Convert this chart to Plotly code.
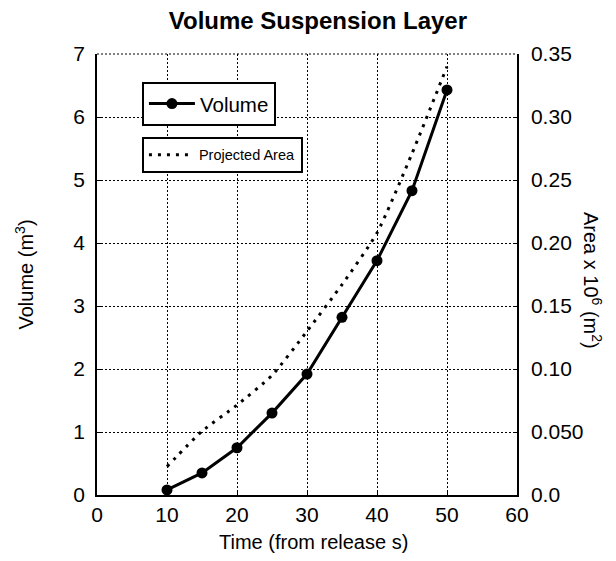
import plotly.graph_objects as go

time_s = [10, 15, 20, 25, 30, 35, 40, 45, 50]
volume_m3 = [0.08, 0.35, 0.75, 1.30, 1.92, 2.82, 3.72, 4.83, 6.43]
area_1e6_m2 = [0.0225, 0.0506, 0.0714, 0.095, 0.130, 0.167, 0.208, 0.271, 0.340]

x_ticks = [0, 10, 20, 30, 40, 50, 60]
y_ticks = [0, 1, 2, 3, 4, 5, 6, 7]
y2_tickvals = [0.0, 0.05, 0.10, 0.15, 0.20, 0.25, 0.30, 0.35]
y2_ticktext = ["0.0", "0.050", "0.10", "0.15", "0.20", "0.25", "0.30", "0.35"]

FONT = "Liberation Sans, Arial, sans-serif"

fig = go.Figure()
fig.add_trace(go.Scatter(
    x=time_s, y=volume_m3, name="Volume", mode="lines+markers",
    line=dict(color="black", width=3),
    marker=dict(symbol="circle", size=11, color="black"),
    legend="legend", showlegend=True,
))
fig.add_trace(go.Scatter(
    x=time_s, y=area_1e6_m2, name="Projected Area", mode="lines",
    line=dict(color="black", width=3, dash="3px,6px", shape="spline", smoothing=0.6),
    yaxis="y2", legend="legend2", showlegend=True,
))

axis_common = dict(
    showline=True, linecolor="black", linewidth=1.5,
    ticks="inside", ticklen=4, tickcolor="black", tickwidth=1,
    tickfont=dict(family=FONT, size=21, color="black"),
    zeroline=False,
)

# the page body adds an 8px offset; the figure is sized to fit the window
fig.update_layout(
    width=600, height=545,
    margin=dict(l=89, r=91, t=46, b=58),
    paper_bgcolor="white", plot_bgcolor="white",
    font=dict(family=FONT, color="black"),
    showlegend=True,
    title=dict(text="<b>Volume Suspension Layer</b>", x=0.526, xref="paper",
               xanchor="center", y=1 - 13 / 545, yanchor="middle",
               font=dict(family=FONT, size=24, color="black")),
    xaxis=dict(range=[0, 60], tickvals=x_ticks, showgrid=True,
               gridcolor="black", gridwidth=1, griddash="2px,2px", **axis_common),
    yaxis=dict(range=[0, 7], tickvals=y_ticks, showgrid=True, ticklabelstandoff=6,
               gridcolor="black", gridwidth=1, griddash="2px,2px", **axis_common),
    yaxis2=dict(range=[0, 0.35], tickvals=y2_tickvals, ticktext=y2_ticktext,
                overlaying="y", side="right", showgrid=False, ticklabelstandoff=8,
                **axis_common),
    legend=dict(x=0.107, y=0.937, xanchor="left", yanchor="top",
                bgcolor="white", bordercolor="black", borderwidth=2, itemwidth=46,
                font=dict(family=FONT, size=20.5, color="black")),
    legend2=dict(x=0.107, y=0.812, xanchor="left", yanchor="top",
                 bgcolor="white", bordercolor="black", borderwidth=2, itemwidth=45,
                 font=dict(family=FONT, size=14.5, color="black")),
    shapes=[dict(type="line", xref="paper", yref="paper", x0=0, x1=1, y0=1, y1=1,
                 line=dict(color="black", width=1, dash="2px,2px"))],
    annotations=[
        dict(text="Time (from release s)", x=(313 - 97) / 420, y=(495 - 542) / 441,
             xref="paper", yref="paper", xanchor="center", yanchor="middle",
             showarrow=False, font=dict(family=FONT, size=20, color="black")),
        dict(text="Volume (m<sup>3</sup>)", x=(24 - 97) / 420, y=0.5,
             xref="paper", yref="paper", xanchor="center", yanchor="middle",
             textangle=-90, showarrow=False,
             font=dict(family=FONT, size=20, color="black")),
        dict(text="Area x 10<sup>6</sup> (m<sup>2</sup>)", x=(593 - 97) / 420,
             y=(495 - 280) / 441, xref="paper", yref="paper",
             xanchor="center", yanchor="middle", textangle=90, showarrow=False,
             font=dict(family=FONT, size=20, color="black")),
    ],
)

fig.write_html("out.html")
